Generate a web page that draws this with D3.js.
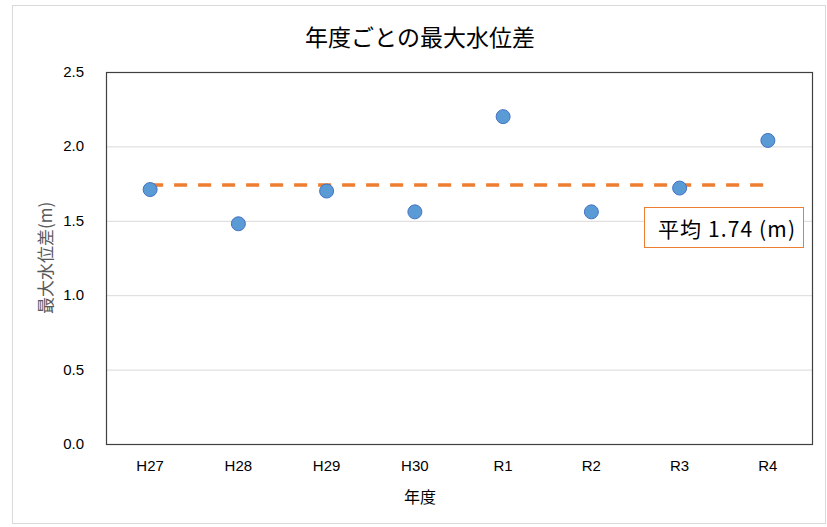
<!DOCTYPE html>
<html>
<head>
<meta charset="utf-8">
<script src="https://cdn.jsdelivr.net/npm/d3@7"></script>
<style>
  body { margin: 0; background: #fff; }
  svg { display: block; }
  text { font-family: "Noto Sans CJK JP", "Noto Sans", sans-serif; }
</style>
</head>
<body>
<svg id="chart" width="827" height="527"></svg>
<script>
"use strict";

// 年度ごとの最大水位差
var nendo = ["H27", "H28", "H29", "H30", "R1", "R2", "R3", "R4"];
var suiisa = [1.71, 1.48, 1.70, 1.56, 2.20, 1.56, 1.72, 2.04];
var yTicks = [0, 0.5, 1.0, 1.5, 2.0, 2.5];
var heikin = 1.74;

var svg = d3.select("#chart");
var m = { left: 106, right: 812, top: 72, bottom: 444 };

// 外枠
svg.append("rect")
    .attr("x", 12.5).attr("y", 5.5).attr("width", 813).attr("height", 518)
    .attr("fill", "none").attr("stroke", "#d9d9d9");

var x = d3.scaleBand().domain(nendo).range([m.left, m.right]);
var y = d3.scaleLinear().domain([0, 2.5]).range([m.bottom, m.top]);

// 目盛線
svg.append("g")
    .selectAll("line")
    .data(yTicks.slice(1, -1))
    .enter().append("line")
    .attr("x1", m.left).attr("x2", m.right)
    .attr("y1", (d) => y(d) + 0.5).attr("y2", (d) => y(d) + 0.5)
    .attr("stroke", "#d9d9d9").attr("stroke-width", 1);

// プロットエリアの枠
svg.append("rect")
    .attr("x", m.left + 0.5).attr("y", m.top + 0.5)
    .attr("width", m.right - m.left).attr("height", m.bottom - m.top)
    .attr("fill", "none").attr("stroke", "#404040").attr("stroke-width", 1.2);

// Y軸ラベル
svg.append("g")
    .selectAll("text")
    .data(yTicks)
    .enter().append("text")
    .attr("x", 84).attr("y", (d) => y(d) + 5)
    .attr("text-anchor", "end")
    .style("font-family", "'Liberation Sans', Arial, sans-serif")
    .style("font-size", "15px").style("fill", "#000")
    .text((d) => d3.format(".1f")(d));

// X軸ラベル
svg.append("g")
    .selectAll("text")
    .data(nendo)
    .enter().append("text")
    .attr("x", (d) => x(d) + x.bandwidth() / 2).attr("y", 471)
    .attr("text-anchor", "middle")
    .style("font-family", "'Liberation Sans', Arial, sans-serif")
    .style("font-size", "15px").style("fill", "#000")
    .text((d) => d);

// 軸タイトル
svg.append("text")
    .attr("x", 420).attr("y", 503)
    .attr("text-anchor", "middle")
    .style("font-size", "16px").style("fill", "#000")
    .text("年度");

svg.append("text")
    .attr("transform", "translate(52," + ((m.top + m.bottom) / 2) + ") rotate(-90)")
    .attr("text-anchor", "middle")
    .style("font-size", "17px").style("fill", "#595959")
    .text("最大水位差(m)");

// タイトル
svg.append("text")
    .attr("x", 420).attr("y", 46)
    .attr("text-anchor", "middle")
    .style("font-size", "23px").style("fill", "#000")
    .text("年度ごとの最大水位差");

// 平均線
var cx = (d) => x(d) + x.bandwidth() / 2;
svg.append("line")
    .attr("x1", cx(nendo[0])).attr("x2", cx(nendo[nendo.length - 1]) + 2)
    .attr("y1", y(heikin)).attr("y2", y(heikin))
    .attr("stroke", "#ED7D31").attr("stroke-width", 3.5)
    .attr("stroke-dasharray", "13,11");

// データ点
svg.append("g")
    .selectAll("circle")
    .data(nendo)
    .enter().append("circle")
    .attr("cx", (d) => cx(d))
    .attr("cy", (d, i) => y(suiisa[i]))
    .attr("r", 7)
    .attr("fill", "#5B9BD5")
    .attr("stroke", "#4472C4").attr("stroke-width", 1);

// 平均値ラベル
svg.append("rect")
    .attr("x", 644.5).attr("y", 207.5).attr("width", 159).attr("height", 40)
    .attr("fill", "#fff").attr("stroke", "#ED7D31").attr("stroke-width", 1);
svg.append("text")
    .attr("x", 658).attr("y", 237)
    .style("font-size", "21px").style("fill", "#000")
    .text("平均 " + heikin.toFixed(2) + " (m)")
    .attr("textLength", 137);
</script>
</body>
</html>
